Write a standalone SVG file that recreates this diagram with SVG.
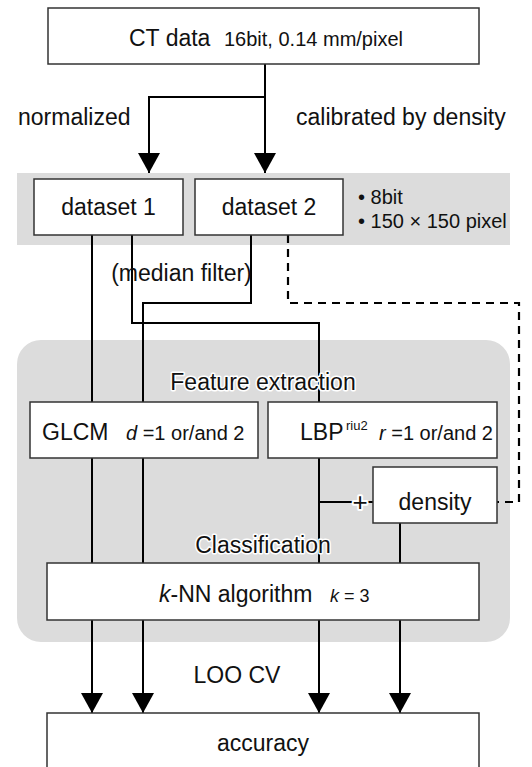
<svg xmlns="http://www.w3.org/2000/svg" width="532" height="767" viewBox="0 0 532 767">
<defs>
<style>
text{font-family:"Liberation Sans",Arial,sans-serif;fill:#111}
.m{font-size:23px}
.s{font-size:20px}
.box{fill:#fff;stroke:#333;stroke-width:1.5}
.ln{fill:none;stroke:#000;stroke-width:2}
.dash{fill:none;stroke:#000;stroke-width:2.2;stroke-dasharray:8 6}
.halo{paint-order:stroke;stroke:#fff;stroke-width:3;stroke-linejoin:round}
.bg{fill:#dcdcdc}
</style>
<marker id="ah" viewBox="0 0 20 22" refX="20" refY="11" markerWidth="20" markerHeight="22" markerUnits="userSpaceOnUse" orient="auto">
<path d="M0,0 L20,11 L0,22 Z" fill="#000"/>
</marker>
</defs>
<rect width="532" height="767" fill="#fff"/>
<g id="backgrounds">
<rect class="bg" x="17" y="173" width="493" height="72"/>
<rect class="bg" x="17" y="340" width="493" height="302" rx="24" ry="24"/>
</g>
<g id="connectors">
<path class="ln" d="M265,64 V97 H149 V173" marker-end="url(#ah)"/>
<path class="ln" d="M265,97 V173" marker-end="url(#ah)"/>
<path class="ln" d="M92,235 V402"/>
<path class="ln" d="M132,235 V323 H319 V402"/>
<path class="ln" d="M251,235 V303 H143 V402"/>
<path class="dash" d="M288,235 V303 H519 V502 H497"/>
<path class="ln" d="M92,458 V563"/>
<path class="ln" d="M143,458 V563"/>
<path class="ln" d="M319,458 V563"/>
<path class="ln" d="M319,502 H373"/>
<path class="ln" d="M400,523 V563"/>
<path class="ln" d="M92,620 V713" marker-end="url(#ah)"/>
<path class="ln" d="M143,620 V713" marker-end="url(#ah)"/>
<path class="ln" d="M319,620 V713" marker-end="url(#ah)"/>
<path class="ln" d="M400,620 V713" marker-end="url(#ah)"/>
</g>
<g id="labels">
<text class="m" x="18" y="125">normalized</text>
<text class="m" x="296" y="125">calibrated by density</text>
<text class="m" x="181.5" y="281" text-anchor="middle">(median filter)</text>
<text class="s" x="358" y="204">• 8bit</text>
<text class="s" x="358" y="228">• 150 × 150 pixel</text>
<text class="m halo" x="263" y="390" text-anchor="middle">Feature extraction</text>
<text class="m halo" x="263" y="553" text-anchor="middle">Classification</text>
<text class="halo" x="360" y="511" font-size="26px" text-anchor="middle" style="stroke-width:4">+</text>
<text class="m" x="237" y="683" text-anchor="middle">LOO CV</text>
</g>
<g id="ct-data">
<rect class="box" x="48" y="8" width="431" height="56"/>
<text class="m" x="129" y="46">CT data</text>
<text class="s" x="224" y="46">16bit, 0.14 mm/pixel</text>
</g>
<g id="dataset1">
<rect class="box" x="34" y="179" width="149" height="56"/>
<text class="m" x="108.5" y="215" text-anchor="middle">dataset 1</text>
</g>
<g id="dataset2">
<rect class="box" x="195" y="179" width="148" height="56"/>
<text class="m" x="269" y="215" text-anchor="middle">dataset 2</text>
</g>
<g id="glcm">
<rect class="box" x="30" y="402" width="228" height="56"/>
<text class="m" x="42" y="440">GLCM</text>
<text class="s" x="126" y="440"><tspan font-style="italic">d</tspan> =1 or/and 2</text>
</g>
<g id="lbp">
<rect class="box" x="268" y="402" width="229" height="56"/>
<text class="m" x="300" y="440">LBP</text>
<text x="346" y="430" font-size="13px">riu2</text>
<text class="s" x="379" y="440"><tspan font-style="italic">r</tspan> =1 or/and 2</text>
</g>
<g id="density">
<rect class="box" x="373" y="467" width="124" height="56"/>
<text class="m" x="435" y="510" text-anchor="middle">density</text>
</g>
<g id="knn">
<rect class="box" x="47" y="563" width="432" height="57"/>
<text class="m" x="159" y="602"><tspan font-style="italic">k</tspan>-NN algorithm</text>
<text x="330" y="602" font-size="18px"><tspan font-style="italic">k</tspan> = 3</text>
</g>
<g id="accuracy">
<rect class="box" x="47" y="713" width="432" height="60"/>
<text class="m" x="263" y="751" text-anchor="middle">accuracy</text>
</g>
</svg>
